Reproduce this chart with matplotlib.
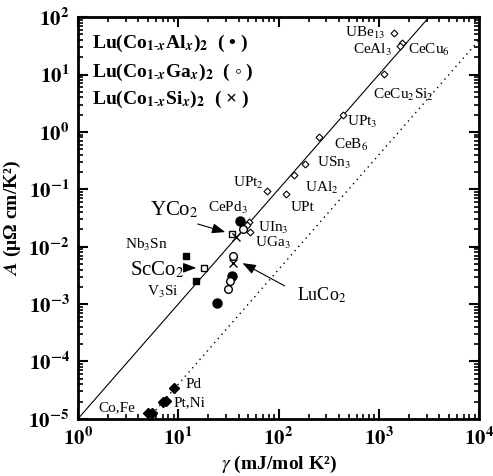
import numpy as np
import matplotlib
matplotlib.use("Agg")
import matplotlib.pyplot as plt
from matplotlib.ticker import FuncFormatter, LogLocator

plt.rcParams['font.family'] = ['Liberation Serif', 'DejaVu Serif']
plt.rcParams['mathtext.fontset'] = 'stix'

# heavy fermion compounds (open diamonds)
hf_names = ['UBe13', 'CeAl3', 'CeCu6', 'CeCu2Si2', 'UPt3', 'CeB6', 'USn3',
            'UAl2', 'UPt', 'UPt2', 'UIn3', 'CePd3', 'UGa3']
hf_gamma = [1413, 1698, 1622, 1122, 437, 251, 182, 141, 120, 76, 51, 48, 52.5]
hf_A = [52.4, 35.0, 31.0, 10.1, 1.94, 0.80, 0.271, 0.181, 0.0845, 0.0916,
        0.0274, 0.024, 0.0184]

# transition metals (filled diamonds)
tm_gamma = [9.12, 7.08, 7.59, 5.01, 5.5]
tm_A = [3.47e-5, 1.98e-5, 2.06e-5, 1.27e-5, 1.27e-5]

# A15 superconductors (filled squares): Nb3Sn, V3Si
a15_gamma = [12.0, 15.1]
a15_A = [0.0070, 0.00256]

# ScCo2, YCo2 (open squares)
rco_gamma = [18.2, 34.7]
rco_A = [0.00432, 0.0169]

# Lu(Co1-xAlx)2, Lu(Co1-xGax)2, Lu(Co1-xSix)2
al_gamma = [41.7, 34.7, 24.5]
al_A = [0.0285, 0.00313, 0.00106]
ga_gamma = [44.7, 35.5, 33.1, 31.6]
ga_A = [0.0207, 0.0070, 0.00256, 0.00186]
si_gamma = [38.0, 35.5]
si_A = [0.0150, 0.00528]

kw_ratio = 1.0e-5   # solid line, A/gamma^2
tm_ratio = 0.4e-6   # dotted line

fig = plt.figure(figsize=(4.93, 4.76), dpi=100)
ax = fig.add_axes([0.158, 0.120, 0.814, 0.844])
ax.set_xscale('log')
ax.set_yscale('log')
ax.set_xlim(1, 1e4)
ax.set_ylim(1e-5, 1e2)

g = np.array([1.0, 1e4])
ax.plot(g, kw_ratio * g**2, color='black', lw=0.8)
ax.plot(g, tm_ratio * g**2, color='black', lw=1.0, ls=(0, (1, 3)))

ax.plot(hf_gamma, hf_A, 'D', ms=3.5, mfc='white', mec='black', mew=0.8)
ax.plot(tm_gamma, tm_A, 'D', ms=5, color='black')
ax.plot(a15_gamma, a15_A, 's', ms=5, color='black')
ax.plot(rco_gamma, rco_A, 's', ms=5, mfc='white', mec='black', mew=1)
ax.plot(al_gamma, al_A, 'o', ms=6.5, color='black')
ax.plot(ga_gamma, ga_A, 'o', ms=5.5, mfc='white', mec='black', mew=1)
ax.plot(si_gamma, si_A, 'x', ms=5.5, color='black', mew=1)

labels = [
    ('UBe$_{13}$', 0.666, 0.960, 11), ('CeAl$_3$', 0.686, 0.918, 11),
    ('CeCu$_6$', 0.823, 0.918, 11), ('CeCu$_2$Si$_2$', 0.736, 0.806, 11),
    ('UPt$_3$', 0.671, 0.739, 11), ('CeB$_6$', 0.638, 0.682, 11),
    ('USn$_3$', 0.596, 0.637, 11), ('UAl$_2$', 0.566, 0.575, 11),
    ('UPt', 0.531, 0.527, 11), ('UPt$_2$', 0.387, 0.587, 11),
    ('CePd$_3$', 0.324, 0.525, 11), ('UIn$_3$', 0.449, 0.475, 11),
    ('UGa$_3$', 0.441, 0.438, 11), ('Nb$_3$Sn', 0.117, 0.433, 11),
    ('V$_3$Si', 0.172, 0.316, 11), ('Pd', 0.267, 0.085, 11),
    ('Pt,Ni', 0.239, 0.040, 11), ('Co,Fe', 0.052, 0.027, 11),
    ('ScCo$_2$', 0.130, 0.371, 15), ('YCo$_2$', 0.180, 0.520, 15),
    ('LuCo$_2$', 0.546, 0.308, 13),
]
for txt, fx, fy, fs in labels:
    ax.text(fx, fy, txt, transform=ax.transAxes, fontsize=fs,
            ha='left', va='center')

arrow = dict(arrowstyle='-|>,head_length=0.8,head_width=0.3', color='black', lw=0.8)
ax.annotate('', xy=(0.374, 0.463), xytext=(0.292, 0.487),
            xycoords='axes fraction', arrowprops=arrow)
ax.annotate('', xy=(0.302, 0.376), xytext=(0.262, 0.376),
            xycoords='axes fraction', arrowprops=arrow)
ax.annotate('', xy=(0.404, 0.391), xytext=(0.521, 0.328),
            xycoords='axes fraction', arrowprops=arrow)

legend_lines = [
    (r'Lu(Co$_{\mathbf{1}\text{-}\mathbfit{x}}$Al$_{\mathbfit{x}}$)$_{\mathbf{2}}$  (', '•', 0.935),
    (r'Lu(Co$_{\mathbf{1}\text{-}\mathbfit{x}}$Ga$_{\mathbfit{x}}$)$_{\mathbf{2}}$  (', '◦', 0.863),
    (r'Lu(Co$_{\mathbf{1}\text{-}\mathbfit{x}}$Si$_{\mathbfit{x}}$)$_{\mathbf{2}}$  (', '×', 0.796),
]
for txt, sym, fy in legend_lines:
    ax.text(0.035, fy, txt + ' ' + sym + ' )', transform=ax.transAxes,
            fontsize=14, fontweight='bold', ha='left', va='center')

ax.xaxis.set_major_locator(LogLocator(base=10, numticks=10))
ax.yaxis.set_major_locator(LogLocator(base=10, numticks=10))
ax.xaxis.set_minor_locator(LogLocator(base=10, subs=np.arange(2, 10), numticks=20))
ax.yaxis.set_minor_locator(LogLocator(base=10, subs=np.arange(2, 10), numticks=20))
fmt = FuncFormatter(lambda v, p: r'$\mathbf{10^{%d}}$' % round(np.log10(v)))
ax.xaxis.set_major_formatter(fmt)
ax.yaxis.set_major_formatter(fmt)
ax.tick_params(which='both', direction='in', top=True, right=True, labelsize=15)
ax.tick_params(which='major', length=7, width=1.5, pad=6)
ax.tick_params(which='minor', length=3.5, width=1.2)
for s in ax.spines.values():
    s.set_linewidth(2)

ax.set_xlabel(r'$\gamma$ (mJ/mol K²)', fontsize=14, fontweight='bold', labelpad=3)
ax.set_ylabel(r'$\mathbfit{A}$ (μΩ cm/K²)', fontsize=14, fontweight='bold', labelpad=4)

fig.savefig('out.png', dpi=100)
